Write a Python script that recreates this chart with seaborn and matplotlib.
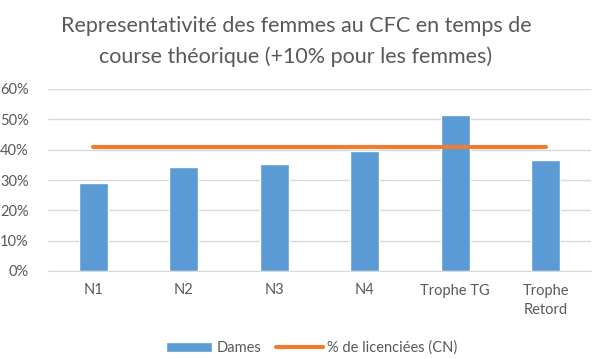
import pandas as pd
import matplotlib.pyplot as plt
import seaborn as sns
from matplotlib.ticker import PercentFormatter

# Données
categories = ["N1", "N2", "N3", "N4", "Trophe TG", "Trophe\nRetord"]
dames = [0.290, 0.343, 0.353, 0.396, 0.515, 0.366]
licenciees_cn = [0.410, 0.410, 0.410, 0.410, 0.410, 0.410]

df = pd.DataFrame({"categorie": categories, "Dames": dames, "CN": licenciees_cn})

sns.set_style("white")
plt.rcParams['font.family'] = ['Lato', 'DejaVu Sans']
gris = "#595959"

fig = plt.figure(figsize=(5.92, 3.59), dpi=100)
ax = fig.add_axes([48 / 592, 88 / 359, 543 / 592, 182 / 359])

sns.barplot(data=df, x="categorie", y="Dames", color="#5B9BD5", width=0.32,
            saturation=1, ax=ax, label="Dames", zorder=2)
sns.lineplot(x=range(len(categories)), y=df["CN"], color="#ED7D31", linewidth=3.0,
             ax=ax, label="% de licenciées (CN)", zorder=3)

ax.set_ylim(0, 0.6)
ax.set_xlim(-0.5, len(categories) - 0.5)
ax.set_yticks([0, 0.1, 0.2, 0.3, 0.4, 0.5, 0.6])
ax.yaxis.set_major_formatter(PercentFormatter(1.0, decimals=0))
ax.grid(axis="y", color="#D9D9D9", linewidth=1, zorder=0)
ax.set_axisbelow(True)
for s in ["top", "right", "left"]:
    ax.spines[s].set_visible(False)
ax.spines["bottom"].set_color("#D9D9D9")
ax.tick_params(axis="both", length=0, colors=gris, labelsize=10.5)
ax.tick_params(axis="x", pad=9)
ax.tick_params(axis="y", pad=14)
for lab in ax.get_xticklabels():
    lab.set_linespacing(1.5)
ax.set_xlabel("")
ax.set_ylabel("")

fig.suptitle("Representativité des femmes au CFC en temps de\ncourse théorique (+10% pour les femmes)",
             x=0.5, y=0.955, fontsize=15.5, color=gris, linespacing=1.6)

handles, labels = ax.get_legend_handles_labels()
order = [labels.index("Dames"), labels.index("% de licenciées (CN)")]
ax.legend([handles[i] for i in order], [labels[i] for i in order],
          loc="upper center", bbox_to_anchor=(0.485, -0.31), ncol=2, frameon=False,
          fontsize=10.5, labelcolor=gris, handlelength=3.2, columnspacing=1.0,
          handletextpad=0.3)

fig.savefig("out.png", dpi=100)
